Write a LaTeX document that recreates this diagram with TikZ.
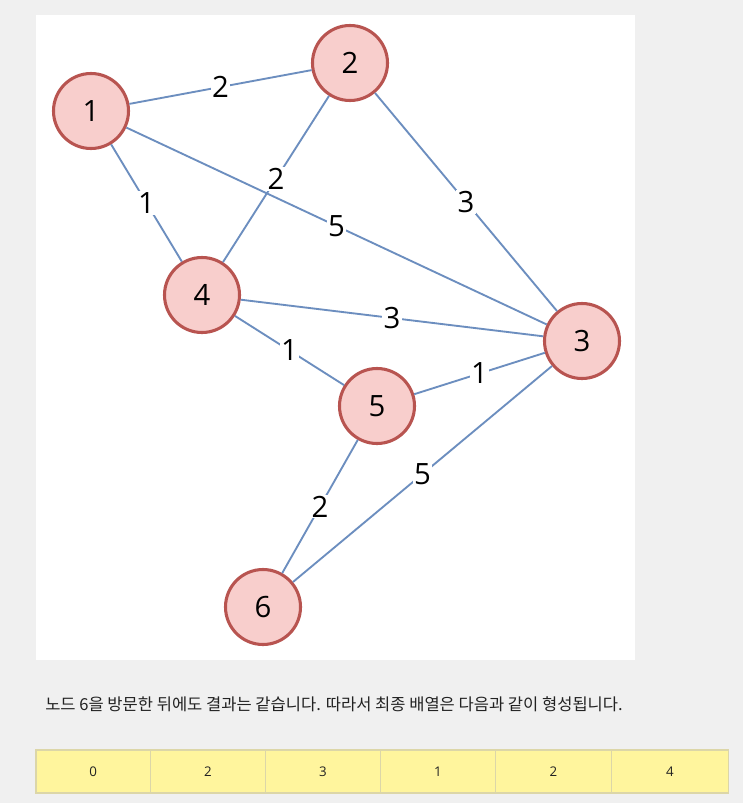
\documentclass[tikz,border=0pt]{standalone}
\usepackage{fontspec}
\setmainfont{Open Sans}
\newfontfamily\kr{Noto Sans CJK KR}
\definecolor{pagebg}{HTML}{F0F0F0}
\definecolor{nodefill}{HTML}{F8CECC}
\definecolor{nodeline}{HTML}{B85450}
\definecolor{edgecol}{HTML}{6C8EBF}
\definecolor{cellfill}{HTML}{FFF59D}
\definecolor{cellline}{HTML}{DCD6A8}
\definecolor{txt}{HTML}{222222}
\begin{document}
\begin{tikzpicture}[x=0.75pt,y=-0.75pt,
  vert/.style={circle,draw=nodeline,fill=nodefill,line width=2.3pt,minimum size=75*0.75pt,inner sep=0pt,font=\fontsize{22}{24}\selectfont},
  edge/.style={draw=edgecol,line width=1.4pt},
  lbl/.style={fill=white,inner sep=1pt,font=\fontsize{22}{24}\selectfont},
  cell/.style={draw=cellline,fill=cellfill,line width=0.8pt,minimum height=43*0.75pt,inner sep=0pt,font=\fontsize{10}{12}\selectfont,text=txt}]
\fill[pagebg] (0,0) rectangle (743,803);
\useasboundingbox (0,0) rectangle (743,803);
\fill[white] (36,15) rectangle (635,660);
\node[vert] (n1) at (91,111) {1};
\node[vert] (n2) at (350,63) {2};
\node[vert] (n4) at (202,295) {4};
\node[vert] (n3) at (582,341) {3};
\node[vert] (n5) at (377,406) {5};
\node[vert] (n6) at (263,607) {6};
\draw[edge] (n1) -- (n2);
\draw[edge] (n1) -- (n4);
\draw[edge] (n2) -- (n4);
\draw[edge] (n1) -- (n3);
\draw[edge] (n2) -- (n3);
\draw[edge] (n4) -- (n3);
\draw[edge] (n4) -- (n5);
\draw[edge] (n5) -- (n3);
\draw[edge] (n5) -- (n6);
\draw[edge] (n6) -- (n3);
\path (n1) -- (n2) node[lbl,midway] (l12) {2};
\path (n1) -- (n4) node[lbl,midway] (l14) {1};
\path (n2) -- (n4) node[lbl,midway] (l24) {2};
\path (n1) -- (n3) node[lbl,midway] (l13) {5};
\path (n2) -- (n3) node[lbl,midway] (l23) {3};
\path (n4) -- (n3) node[lbl,midway] (l43) {3};
\path (n4) -- (n5) node[lbl,midway] (l45) {1};
\path (n5) -- (n3) node[lbl,midway] (l53) {1};
\path (n5) -- (n6) node[lbl,midway] (l56) {2};
\path (n6) -- (n3) node[lbl,midway] (l63) {5};
\node[anchor=west,inner sep=0pt,text=txt,font=\kr\fontsize{12.4}{14}\selectfont] (msg) at (45,704) {노드 6을 방문한 뒤에도 결과는 같습니다. 따라서 최종 배열은 다음과 같이 형성됩니다.};
\node[cell,minimum width=114.5*0.75pt] (c0) at (93.25,771.5) {0};
\node[cell,minimum width=114.5*0.75pt] (c1) at (208,771.5) {2};
\node[cell,minimum width=115*0.75pt] (c2) at (323,771.5) {3};
\node[cell,minimum width=115*0.75pt] (c3) at (438,771.5) {1};
\node[cell,minimum width=116*0.75pt] (c4) at (553.5,771.5) {2};
\node[cell,minimum width=117*0.75pt] (c5) at (670,771.5) {4};
\end{tikzpicture}
\end{document}
